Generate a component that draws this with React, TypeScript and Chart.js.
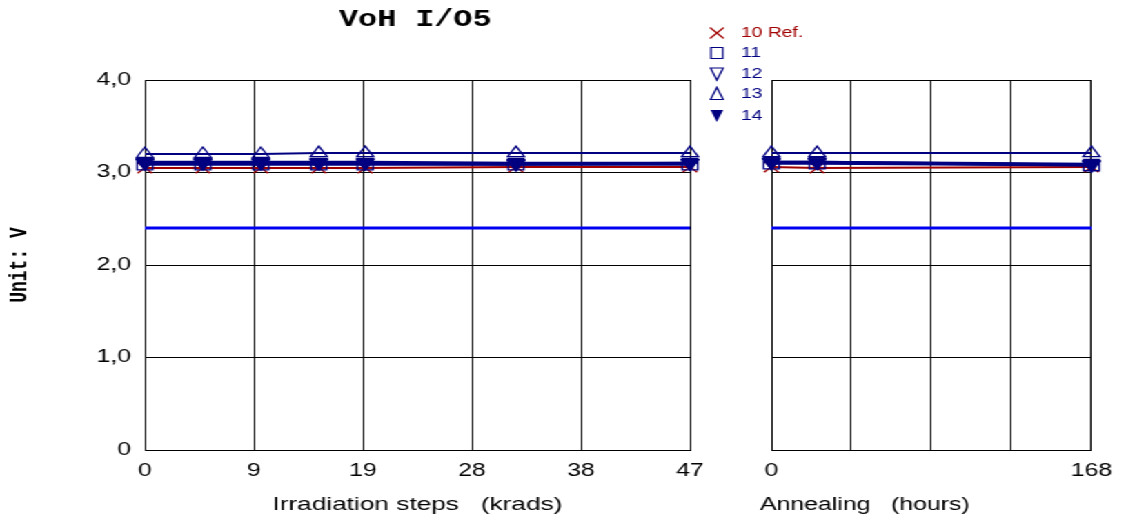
import React, { useEffect, useRef } from 'react';
import { Chart, registerables } from 'chart.js';

Chart.register(...registerables);

// ---------- data ----------
const TITLE = 'VoH I/O5';
const Y_TITLE = 'Unit: V';
const IRR_TITLE = 'Irradiation steps   (krads)';
const ANN_TITLE = 'Annealing   (hours)';

const SERIES_NAMES = ['10 Ref.', '11', '12', '13', '14'];

const IRR_X = [0, 5, 10, 15, 19, 32, 47];
const IRR_10 = [3.05, 3.05, 3.05, 3.05, 3.05, 3.06, 3.06];
const IRR_11 = [3.09, 3.09, 3.09, 3.09, 3.09, 3.09, 3.09];
const IRR_12 = [3.10, 3.10, 3.10, 3.10, 3.10, 3.09, 3.10];
const IRR_13 = [3.20, 3.20, 3.20, 3.21, 3.21, 3.21, 3.21];
const IRR_14 = [3.11, 3.11, 3.11, 3.11, 3.11, 3.10, 3.10];

const ANN_X = [0, 24, 168];
const ANN_10 = [3.06, 3.05, 3.06];
const ANN_11 = [3.10, 3.10, 3.08];
const ANN_12 = [3.11, 3.11, 3.08];
const ANN_13 = [3.21, 3.21, 3.21];
const ANN_14 = [3.11, 3.11, 3.09];

const LIMIT = 2.4;

const IRR_TICKS = [0, 9.4, 18.8, 28.2, 37.6, 47];
const IRR_TICK_LABELS = ['0', '9', '19', '28', '38', '47'];
const ANN_TICKS = [0, 42, 84, 126, 168];
const ANN_TICK_LABELS = ['0', '', '', '', '168'];
const Y_TICKS = [0, 1, 2, 3, 4];
const Y_TICK_LABELS = ['0', '1,0', '2,0', '3,0', '4,0'];

// ---------- styles ----------
const SX = 1126 / 816;
const SANS = '"Liberation Sans", Arial, sans-serif';
const MONO = '"Liberation Mono", "Courier New", monospace';
const NAVY = '#000080';
const RED = '#a00000';
const LIMIT_COLOR = '#0000f0';

type SeriesStyle = {
  line: string;
  color: string;
  width: number;
  style: string;
  rot: number;
  r: number;
  fill: string;
  order: number;
  legend: string;
};

const STYLES: SeriesStyle[] = [
  { line: RED, color: RED, width: 2, style: 'crossRot', rot: 0, r: 7.5, fill: 'rgba(0,0,0,0)', order: 5, legend: 'cross' },
  { line: NAVY, color: NAVY, width: 3, style: 'rect', rot: 0, r: 8, fill: 'rgba(0,0,0,0)', order: 4, legend: 'square' },
  { line: NAVY, color: NAVY, width: 3, style: 'triangle', rot: 180, r: 7, fill: 'rgba(0,0,0,0)', order: 3, legend: 'down' },
  { line: NAVY, color: NAVY, width: 2, style: 'triangle', rot: 0, r: 7, fill: 'rgba(0,0,0,0)', order: 2, legend: 'up' },
  { line: NAVY, color: NAVY, width: 3, style: 'triangle', rot: 180, r: 7, fill: NAVY, order: 1, legend: 'downFilled' },
];

function makeDatasets(xs: number[], vals: number[][]) {
  const ds: any[] = SERIES_NAMES.map((name, i) => {
    const s = STYLES[i];
    return {
      label: name,
      data: xs.map((x, j) => ({ x, y: vals[i][j] })),
      borderColor: s.line,
      borderWidth: s.width,
      pointStyle: s.style,
      pointRotation: s.rot,
      pointRadius: s.r,
      pointBorderColor: s.color,
      pointBackgroundColor: s.fill,
      pointBorderWidth: 1.3,
      order: s.order,
      tension: 0,
      clip: false,
    };
  });
  ds.push({
    label: 'limit',
    data: [
      { x: xs[0], y: LIMIT },
      { x: xs[xs.length - 1], y: LIMIT },
    ],
    borderColor: LIMIT_COLOR,
    borderWidth: 3,
    pointRadius: 0,
    order: 10,
  });
  return ds;
}

function drawMarker(ctx: CanvasRenderingContext2D, kind: string, x: number, y: number, color: string) {
  ctx.save();
  ctx.beginPath();
  ctx.strokeStyle = color;
  ctx.fillStyle = color;
  ctx.lineWidth = 1.2;
  if (kind === 'cross') {
    ctx.moveTo(x - 5, y - 5.5);
    ctx.lineTo(x + 5, y + 5.5);
    ctx.moveTo(x + 5, y - 5.5);
    ctx.lineTo(x - 5, y + 5.5);
    ctx.stroke();
  } else if (kind === 'square') {
    ctx.rect(x - 4.3, y - 5.5, 8.6, 11);
    ctx.stroke();
  } else if (kind === 'down' || kind === 'downFilled') {
    ctx.moveTo(x - 4.6, y - 5.5);
    ctx.lineTo(x + 4.6, y - 5.5);
    ctx.lineTo(x, y + 6.5);
    ctx.closePath();
    if (kind === 'downFilled') ctx.fill();
    else ctx.stroke();
  } else {
    ctx.moveTo(x, y - 6.5);
    ctx.lineTo(x + 4.6, y + 5.5);
    ctx.lineTo(x - 4.6, y + 5.5);
    ctx.closePath();
    ctx.stroke();
  }
  ctx.restore();
}

const LEGEND_ROWS = [33, 53, 73.5, 94, 115.5];

const leftDecor = {
  id: 'leftDecor',
  afterDraw(chart: any) {
    const ctx: CanvasRenderingContext2D = chart.ctx;
    ctx.save();
    ctx.font = `bold 23px ${MONO}`;
    ctx.fillStyle = '#000';
    ctx.textAlign = 'center';
    ctx.textBaseline = 'middle';
    ctx.fillText(TITLE, 301, 20);
    ctx.font = `14px ${SANS}`;
    ctx.textAlign = 'left';
    SERIES_NAMES.forEach((name, i) => {
      const y = LEGEND_ROWS[i];
      const s = STYLES[i];
      drawMarker(ctx, s.legend, 519.5, y, s.color);
      ctx.fillStyle = s.color;
      ctx.fillText(name, 537, y + 0.5);
    });
    ctx.restore();
  },
};

const rightDecor = {
  id: 'rightDecor',
  afterDraw(chart: any) {
    const ctx: CanvasRenderingContext2D = chart.ctx;
    ctx.save();
    ctx.font = `18px ${SANS}`;
    ctx.fillStyle = '#000';
    ctx.textAlign = 'left';
    ctx.textBaseline = 'middle';
    ctx.fillText(ANN_TITLE, 10.7, 505);
    ctx.restore();
  },
};

function yScale(showLabels: boolean, width: number) {
  return {
    type: 'linear',
    min: 0,
    max: 4,
    afterBuildTicks: (s: any) => {
      s.ticks = Y_TICKS.map((v) => ({ value: v }));
    },
    afterFit: (s: any) => {
      s.width = width;
    },
    ticks: {
      display: showLabels,
      padding: 10,
      color: '#000',
      font: { family: SANS, size: 18 },
      callback: (v: number) => Y_TICK_LABELS[Y_TICKS.indexOf(v)],
    },
    grid: { color: '#000', lineWidth: 1, drawTicks: false },
    border: { color: '#000', width: 1 },
    title: showLabels
      ? {
          display: true,
          text: Y_TITLE,
          color: '#000',
          font: { family: MONO, size: 18, weight: 'bold' },
          padding: { top: 4, bottom: 0 },
        }
      : { display: false },
  };
}

function xScale(min: number, max: number, ticks: number[], labels: string[], title: string | null) {
  return {
    type: 'linear',
    min,
    max,
    afterBuildTicks: (s: any) => {
      s.ticks = ticks.map((v) => ({ value: v }));
    },
    afterFit: (s: any) => {
      s.height = 71;
    },
    ticks: {
      autoSkip: false,
      maxRotation: 0,
      padding: 10,
      color: '#000',
      font: { family: SANS, size: 18 },
      callback: (v: number) => labels[ticks.indexOf(v)],
    },
    grid: { color: '#000', lineWidth: 1, drawTicks: false },
    border: { color: '#000', width: 1 },
    title: title
      ? {
          display: true,
          text: title,
          color: '#000',
          font: { family: SANS, size: 19 },
          padding: { top: 0, bottom: 5 },
        }
      : { display: false },
  };
}

export default function App() {
  const leftRef = useRef<HTMLCanvasElement>(null);
  const rightRef = useRef<HTMLCanvasElement>(null);

  useEffect(() => {
    const common = {
      responsive: false,
      animation: false,
      devicePixelRatio: 1,
      plugins: { legend: { display: false }, tooltip: { enabled: false }, title: { display: false } },
    };
    const left = new Chart(leftRef.current as HTMLCanvasElement, {
      type: 'line',
      data: { datasets: makeDatasets(IRR_X, [IRR_10, IRR_11, IRR_12, IRR_13, IRR_14]) },
      options: {
        ...common,
        layout: { padding: { left: 0, right: 100, top: 80, bottom: 0 } },
        scales: {
          x: xScale(0, 47, IRR_TICKS, IRR_TICK_LABELS, IRR_TITLE),
          y: yScale(true, 105),
        },
      } as any,
      plugins: [leftDecor],
    });
    const right = new Chart(rightRef.current as HTMLCanvasElement, {
      type: 'line',
      data: { datasets: makeDatasets(ANN_X, [ANN_10, ANN_11, ANN_12, ANN_13, ANN_14]) },
      options: {
        ...common,
        layout: { padding: { left: 19, right: 19, top: 80, bottom: 0 } },
        scales: {
          x: xScale(0, 168, ANN_TICKS, ANN_TICK_LABELS, null),
          y: yScale(false, 0),
        },
      } as any,
      plugins: [rightDecor],
    });
    return () => {
      left.destroy();
      right.destroy();
    };
  }, []);

  return (
    <div
      style={{
        position: 'fixed',
        left: 0,
        top: 0,
        width: 816,
        height: 521,
        transform: `scaleX(${SX})`,
        transformOrigin: '0 0',
        background: '#fff',
      }}
    >
      <canvas ref={leftRef} width={600} height={521} style={{ position: 'absolute', left: 0, top: 0 }} />
      <canvas ref={rightRef} width={276} height={521} style={{ position: 'absolute', left: 540, top: 0 }} />
    </div>
  );
}
